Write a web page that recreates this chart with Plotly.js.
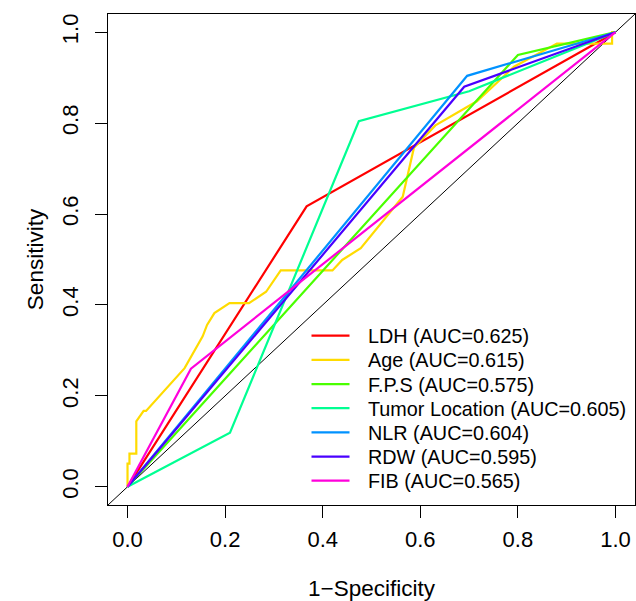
<!DOCTYPE html>
<html>
<head>
<meta charset="utf-8">
<script src="https://cdn.plot.ly/plotly-3.0.1.min.js"></script>
<style>html,body{margin:0;padding:0;background:#fff;}#chart{width:636px;height:601px;}</style>
</head>
<body>
<div id="chart"></div>
<script>
// ROC curves: x = 1-Specificity, y = Sensitivity
const seriesNames = ["LDH (AUC=0.625)", "Age (AUC=0.615)", "F.P.S (AUC=0.575)",
  "Tumor Location (AUC=0.605)", "NLR (AUC=0.604)", "RDW (AUC=0.595)", "FIB (AUC=0.565)"];
const seriesColors = ["#FF0000", "#FFDB00", "#49FF00", "#00FF92", "#0092FF", "#4900FF", "#FF00DB"];

const ldhX = [0, 0.367, 1];
const ldhY = [0, 0.617, 1];

const ageX = [0, 0, 0.004, 0.004, 0.018, 0.018, 0.033, 0.038, 0.117, 0.154, 0.163, 0.178, 0.209, 0.249, 0.284, 0.314, 0.420, 0.440, 0.478, 0.564, 0.587, 0.631, 0.716, 0.792, 0.880, 0.993, 0.993, 1];
const ageY = [0, 0.051, 0.051, 0.073, 0.073, 0.144, 0.167, 0.167, 0.261, 0.331, 0.356, 0.382, 0.404, 0.404, 0.429, 0.476, 0.476, 0.499, 0.525, 0.638, 0.746, 0.795, 0.848, 0.924, 0.975, 0.975, 1, 1];

const fpsX = [0, 0.80, 1];
const fpsY = [0, 0.95, 1];

const tumorX = [0, 0.210, 0.474, 0.700, 1];
const tumorY = [0, 0.119, 0.804, 0.870, 1];

const nlrX = [0, 0.696, 1];
const nlrY = [0, 0.904, 1];

const rdwX = [0, 0.690, 1];
const rdwY = [0, 0.880, 1];

const fibX = [0, 0.130, 1];
const fibY = [0, 0.260, 1];

const tickVals = [0, 0.2, 0.4, 0.6, 0.8, 1.0];
const tickText = ["0.0", "0.2", "0.4", "0.6", "0.8", "1.0"];

const xs = [ldhX, ageX, fpsX, tumorX, nlrX, rdwX, fibX];
const ys = [ldhY, ageY, fpsY, tumorY, nlrY, rdwY, fibY];

const traces = xs.map((x, i) => ({
  x: x, y: ys[i], type: "scatter", mode: "lines", name: seriesNames[i],
  line: {color: seriesColors[i], width: 2.2}, hoverinfo: "skip", showlegend: false
}));

const FONT = "Liberation Sans, Arial, Helvetica, sans-serif";

// Legend (R-style, no box): sample lines + labels, placed in plot-area pixels
const W = 636, H = 601, ML = 108, MR = 1, MT = 14, MB = 96;
const PW = W - ML - MR, PH = H - MT - MB;
const px2x = p => (p - ML) / PW;
const py2y = p => (H - MB - p) / PH;
const legShapes = [], legAnn = [];
seriesNames.forEach((name, i) => {
  const cy = 335.7 + 24.17 * i;
  legShapes.push({type: "line", xref: "paper", yref: "paper",
    x0: px2x(311.5), x1: px2x(349.5), y0: py2y(cy), y1: py2y(cy),
    line: {color: seriesColors[i], width: 2.2}});
  legAnn.push({xref: "paper", yref: "paper", x: px2x(366), y: py2y(cy + 0.5),
    xanchor: "left", yanchor: "middle", showarrow: false, text: name,
    font: {family: FONT, size: 19.8, color: "#000"}});
});

const layout = {
  width: W, height: H,
  margin: {l: ML, r: MR, t: MT, b: MB},
  paper_bgcolor: "#fff", plot_bgcolor: "#fff",
  showlegend: false,
  xaxis: {
    range: [-0.04, 1.04], showgrid: false, zeroline: false,
    tickvals: tickVals, ticktext: tickText,
    ticks: "outside", ticklen: 12, tickwidth: 1, tickcolor: "#000",
    showline: true, mirror: true, linecolor: "#000", linewidth: 1,
    ticklabelstandoff: 3,
    tickfont: {family: FONT, size: 22, color: "#000"},
    title: {text: "1\u2212Specificity", font: {family: FONT, size: 22.5, color: "#000"}, standoff: 28},
    automargin: false
  },
  yaxis: {
    range: [-0.04, 1.04], showgrid: false, zeroline: false,
    tickvals: tickVals, ticktext: tickText, tickangle: -90,
    ticks: "outside", ticklen: 12, tickwidth: 1, tickcolor: "#000",
    showline: true, mirror: true, linecolor: "#000", linewidth: 1,
    ticklabelstandoff: 8,
    tickfont: {family: FONT, size: 22, color: "#000"},
    title: {text: "Sensitivity", font: {family: FONT, size: 22.5, color: "#000"}, standoff: 8},
    automargin: false
  },
  shapes: [{type: "line", xref: "paper", yref: "paper", x0: 0, y0: 0, x1: 1, y1: 1,
            line: {color: "#000", width: 1}, layer: "below"}].concat(legShapes),
  annotations: legAnn
};

Plotly.newPlot("chart", traces, layout, {displayModeBar: false, staticPlot: true});
</script>
</body>
</html>
